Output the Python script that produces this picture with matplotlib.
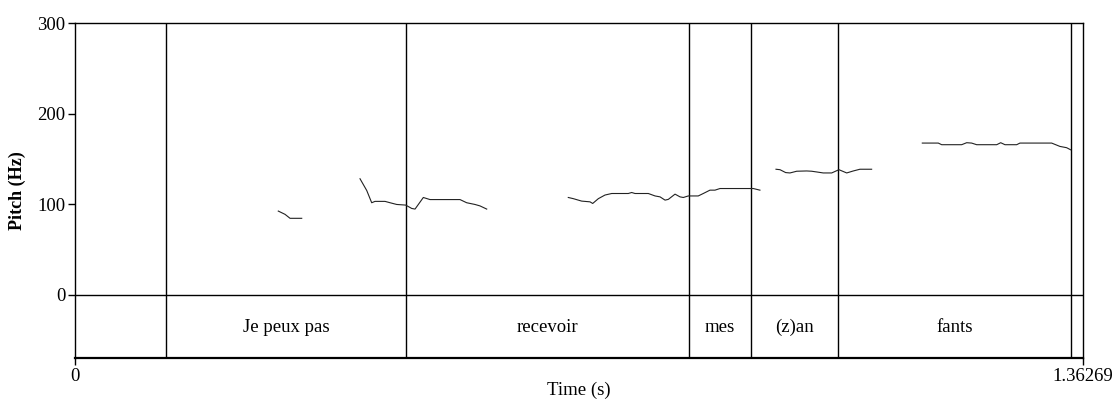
import matplotlib
matplotlib.use("Agg")
import matplotlib.pyplot as plt

# ---- data -----------------------------------------------------------------
T_END = 1.36269
Y_MIN, Y_MAX = -70, 300

BOUNDARIES = [0.1230, 0.4475, 0.8301, 0.9139, 1.0315, 1.3465]
WORDS = ["Je peux pas", "recevoir", "mes", "(z)an", "fants"]

SEG1_T = [0.2748, 0.2839, 0.2907, 0.3065]
SEG1_F = [92.3, 88.7, 84.3, 84.3]

SEG2_T = [0.3853, 0.3944, 0.4011, 0.4056, 0.4191, 0.4259, 0.4349, 0.4471,
          0.4552, 0.4597, 0.4709, 0.4799, 0.5205, 0.5295, 0.5407, 0.5475,
          0.5566]
SEG2_F = [128.0, 115.0, 101.5, 103.0, 103.0, 101.5, 99.6, 98.9,
          95.2, 94.5, 107.3, 105.0, 105.0, 101.5, 99.6, 98.0,
          94.5]

SEG3_T = [0.6669, 0.6737, 0.6850, 0.6962, 0.6999, 0.7075, 0.7165, 0.7256,
          0.7480, 0.7526, 0.7571, 0.7751, 0.7842, 0.7909, 0.7977, 0.8021,
          0.8112, 0.8179, 0.8224, 0.8291, 0.8426, 0.8494, 0.8584, 0.8652,
          0.8720, 0.9170, 0.9260]
SEG3_F = [107.3, 106.0, 103.3, 102.5, 100.7, 106.0, 110.0, 111.7,
          111.7, 112.8, 111.7, 111.7, 109.0, 108.0, 104.4, 105.2,
          111.0, 108.0, 107.3, 109.0, 109.0, 111.7, 115.4, 115.4,
          117.2, 117.2, 115.4]

SEG4_T = [0.9477, 0.9531, 0.9608, 0.9666, 0.9757, 0.9892, 0.9959, 1.0027,
          1.0116, 1.0230, 1.0328, 1.0433, 1.0522, 1.0612, 1.0770]
SEG4_F = [138.5, 138.0, 134.8, 134.4, 136.3, 136.6, 136.3, 135.5,
          134.4, 134.4, 138.0, 134.4, 136.6, 138.5, 138.5]

SEG5_T = [1.1455, 1.1671, 1.1717, 1.1987, 1.2055, 1.2122, 1.2190, 1.2461,
          1.2515, 1.2573, 1.2731, 1.2775, 1.3204, 1.3316, 1.3406, 1.3460]
SEG5_F = [167.4, 167.4, 165.6, 165.6, 167.8, 167.4, 165.6, 165.6,
          167.8, 165.6, 165.6, 167.4, 167.4, 163.7, 162.3, 160.0]

SEGMENTS = [(SEG1_T, SEG1_F), (SEG2_T, SEG2_F), (SEG3_T, SEG3_F),
            (SEG4_T, SEG4_F), (SEG5_T, SEG5_F)]

FS = 13.5


def main():
    plt.rcParams["font.family"] = ["Liberation Serif", "DejaVu Serif"]
    plt.rcParams["font.size"] = FS

    fig = plt.figure(figsize=(11.13, 4.01), dpi=100)
    ax = fig.add_axes([0.0674, 0.1072, 0.9056, 0.8354])
    ax.set_xlim(0, T_END)
    ax.set_ylim(Y_MIN, Y_MAX)

    for s in ax.spines.values():
        s.set_linewidth(1.0)
    ax.spines["bottom"].set_linewidth(1.6)

    # tier separator at 0 Hz
    ax.axhline(0, color="black", lw=1.0)

    # interval boundaries
    for b in BOUNDARIES:
        ax.axvline(b, color="black", lw=1.0)

    # word labels centred in intervals
    for i, w in enumerate(WORDS):
        mid = (BOUNDARIES[i] + BOUNDARIES[i + 1]) / 2
        ax.text(mid, -36, w, ha="center", va="center", fontsize=FS)

    for t, f in SEGMENTS:
        ax.plot(t, f, color="#222222", lw=0.8)

    ax.set_yticks([0, 100, 200, 300])
    ax.set_xticks([0, T_END])
    ax.set_xticklabels(["0", "1.36269"])
    ax.tick_params(axis="both", direction="out", length=5, width=1.0,
                   labelsize=FS, pad=2)
    ax.tick_params(axis="x", pad=2)

    ax.set_xlabel("Time (s)", fontsize=FS, labelpad=-2)
    ax.set_ylabel("Pitch (Hz)", fontsize=13, fontweight="bold", labelpad=8)

    fig.savefig("out.png", dpi=100)


if __name__ == "__main__":
    main()
